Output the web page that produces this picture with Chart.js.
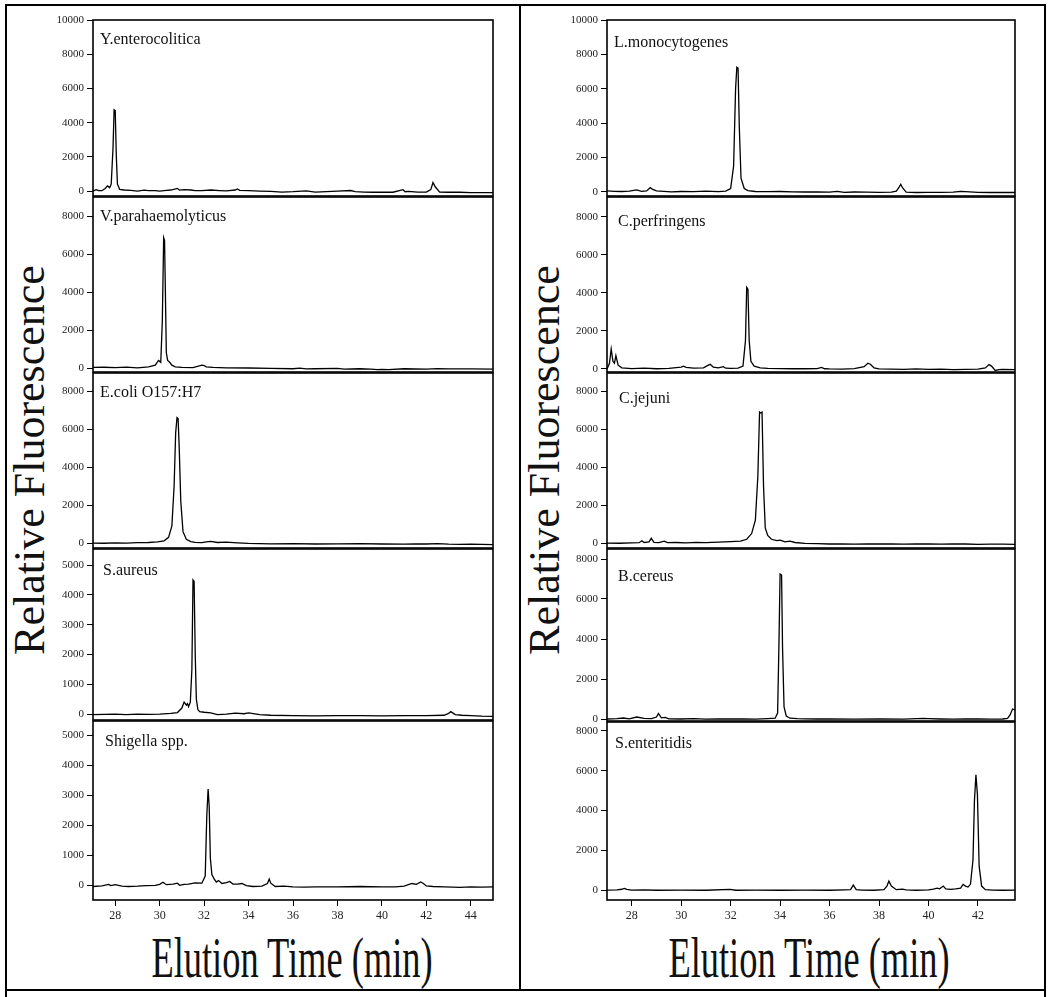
<!DOCTYPE html>
<html><head><meta charset="utf-8">
<script src="https://cdn.jsdelivr.net/npm/chart.js@4.4.1/dist/chart.umd.min.js"></script>
<style>
html,body{margin:0;padding:0;background:#fff;}
body{width:1052px;height:997px;position:relative;overflow:hidden;font-family:"Liberation Serif","Times New Roman",serif;}
canvas{position:absolute;}
.frameline{position:absolute;background:#000;}
.ylab{position:absolute;width:440px;height:50px;line-height:50px;text-align:center;font-size:44px;white-space:nowrap;color:#111;transform:rotate(-90deg);}
.xlab{position:absolute;width:600px;height:64px;line-height:64px;text-align:center;font-size:56px;white-space:nowrap;color:#111;transform:scaleX(0.65);}
</style></head><body>
<div class="frameline" style="left:5px;top:4px;width:2px;height:993px"></div>
<div class="frameline" style="left:1044px;top:4px;width:2px;height:993px"></div>
<div class="frameline" style="left:5px;top:4px;width:1041px;height:2px"></div>
<div class="frameline" style="left:5px;top:989px;width:1041px;height:2px"></div>
<div class="frameline" style="left:519px;top:4px;width:1.5px;height:986px"></div>
<div class="ylab" style="left:-190px;top:435px">Relative Fluorescence</div>
<div class="ylab" style="left:325px;top:435px">Relative Fluorescence</div>
<div class="xlab" style="left:-8px;top:926px">Elution Time (min)</div>
<div class="xlab" style="left:509px;top:926px">Elution Time (min)</div>
<script>
// ---- data (elution time in min, relative fluorescence) ----
const yentTime=[27.0,27.15,27.25,27.4,27.55,27.65,27.75,27.82,27.9,27.95,28.0,28.05,28.1,28.2,28.4,28.7,29.0,29.3,29.5,29.8,30.0,30.3,30.5,30.8,30.9,31.1,31.4,31.6,31.9,32.3,32.7,33.0,33.4,33.5,33.6,34.0,34.5,35.0,35.5,36.0,36.6,37.0,37.5,38.0,38.6,38.8,39.2,39.6,40.0,40.5,40.95,41.05,41.2,41.6,42.0,42.2,42.3,42.4,42.6,43.0,43.5,44.0,45.0];
const yentSignal=[0,80,30,20,150,300,200,400,2500,4750,4700,2000,400,100,60,40,0,50,20,30,-10,40,60,150,50,80,60,30,20,60,30,10,60,120,40,20,0,-20,-60,-40,10,-60,-40,-10,30,-30,-60,-70,-60,-70,80,-40,-20,-60,-60,80,500,250,-60,-70,-70,-90,-90];

const vparaTime=[27.0,27.5,28.0,28.5,29.0,29.5,29.8,29.95,30.05,30.12,30.18,30.22,30.26,30.3,30.36,30.45,30.55,30.7,31.0,31.5,31.9,32.0,32.1,32.4,33.0,34.0,35.0,36.0,36.3,36.6,37.0,38.0,38.3,39.0,39.5,39.8,40.0,40.3,41.0,42.0,42.5,43.0,44.0,45.0];
const vparaSignal=[30,40,20,50,10,60,150,400,300,2500,6850,6700,3800,800,400,300,150,60,30,20,150,130,60,30,10,0,-20,-40,-10,-50,-40,-20,-60,-40,-60,-90,-70,-80,-40,-60,-30,-50,-50,-60];

const ecoliTime=[27.0,27.5,28.0,28.5,29.0,29.5,29.9,30.2,30.4,30.55,30.65,30.72,30.78,30.83,30.88,30.95,31.05,31.2,31.4,31.6,31.9,32.1,32.3,32.6,33.0,33.5,34.0,35.0,36.0,37.0,38.0,39.0,40.0,41.0,41.5,42.0,42.5,43.0,43.5,44.0,45.0];
const ecoliSignal=[0,-10,10,0,20,30,60,120,300,900,3000,5800,6600,6550,5000,2200,600,200,80,40,20,60,90,30,50,10,-20,-40,-30,-50,-40,-30,-50,-60,-40,-50,-30,-60,-70,-60,-80];

const saureusTime=[27.0,27.5,28.0,28.5,29.0,29.5,30.0,30.5,30.8,31.0,31.1,31.2,31.25,31.3,31.38,31.45,31.5,31.55,31.6,31.65,31.72,31.8,32.0,32.3,32.6,33.0,33.4,33.8,34.0,34.5,35.0,36.0,37.0,38.0,39.0,40.0,41.0,42.0,42.8,43.0,43.1,43.3,43.6,44.0,44.5,45.0];
const saureusSignal=[-20,-10,0,-20,0,-10,0,20,50,200,400,300,350,250,400,1500,4500,4450,2000,500,150,80,60,40,-20,0,30,10,40,-20,-40,-50,-60,-50,-50,-60,-50,-50,-40,20,80,-20,-40,-50,-70,-80];

const shigellaTime=[27.0,27.4,27.7,27.8,28.0,28.3,28.6,29.0,29.4,29.8,30.0,30.15,30.3,30.6,30.8,30.9,31.1,31.3,31.6,31.9,32.05,32.12,32.18,32.23,32.28,32.35,32.45,32.55,32.65,32.8,33.0,33.15,33.3,33.5,33.7,33.9,34.2,34.6,34.85,34.93,35.0,35.2,35.6,36.0,36.5,37.0,38.0,39.0,40.0,40.6,41.0,41.35,41.55,41.75,41.85,42.0,42.3,42.8,43.2,43.5,44.0,44.5,45.0];
const shigellaSignal=[-50,-30,20,-20,10,-40,-50,-40,-20,-10,20,90,10,30,60,-10,20,30,70,60,300,2300,3200,2600,900,350,200,100,150,50,80,120,30,30,50,-20,-50,-40,50,200,60,-50,-40,-60,-70,-60,-60,-50,-60,-60,-40,50,20,100,60,-30,-50,-60,-70,-80,-60,-70,-60];

const lmonoTime=[27.0,27.3,27.6,27.9,28.2,28.4,28.6,28.75,28.85,29.0,29.3,29.6,30.0,30.5,31.0,31.5,31.8,32.0,32.12,32.2,32.25,32.3,32.35,32.42,32.55,32.7,33.0,33.5,34.0,34.5,35.0,35.5,36.0,36.3,36.6,37.0,37.5,38.0,38.5,38.7,38.82,38.88,38.95,39.1,39.5,40.0,40.5,41.0,41.3,41.5,42.0,42.5,43.0,43.5];
const lmonoSignal=[60,40,30,50,120,40,60,250,150,60,40,10,30,20,50,20,50,200,1500,6000,7250,7200,3800,800,200,80,30,20,30,10,0,10,-10,40,-20,0,-10,-20,-10,50,300,450,250,-10,-30,-20,-20,-10,40,20,-20,-30,-30,-30];

const cperfTime=[27.0,27.1,27.17,27.24,27.3,27.36,27.45,27.6,28.0,28.5,29.0,29.5,30.0,30.1,30.2,30.5,30.9,31.1,31.17,31.3,31.5,31.7,31.8,32.0,32.3,32.5,32.6,32.65,32.7,32.75,32.82,32.95,33.2,33.5,34.0,34.5,35.0,35.5,35.68,35.8,36.0,36.5,37.0,37.4,37.55,37.65,37.8,38.0,38.5,39.0,39.5,40.0,40.5,41.0,41.5,42.0,42.3,42.45,42.55,42.7,42.85,43.0,43.5];
const cperfSignal=[0,300,1050,400,300,700,200,60,20,40,10,30,100,150,80,40,60,200,250,100,60,120,40,30,40,150,1500,4300,4200,1500,400,150,60,30,20,10,10,20,80,10,0,-10,20,120,300,250,60,0,-10,-20,0,-20,-10,-30,-20,-10,50,230,150,-80,-40,-20,-30];

const cjejTime=[27.0,27.5,28.0,28.3,28.41,28.5,28.7,28.79,28.9,29.1,29.31,29.45,29.8,30.2,30.6,31.0,31.5,32.0,32.4,32.65,32.85,33.0,33.1,33.17,33.22,33.27,33.33,33.4,33.5,33.65,33.87,34.0,34.2,34.4,34.6,35.0,35.5,36.0,36.5,37.0,37.5,38.0,38.5,39.0,39.5,40.0,40.5,41.0,41.5,42.0,42.5,43.0,43.5];
const cjejSignal=[0,-10,10,20,120,30,60,250,40,20,100,20,30,10,40,20,50,80,100,200,500,1200,3500,6900,6850,6900,3000,800,400,200,130,150,60,100,30,-20,-30,-50,-40,-60,-50,-40,-50,-60,-40,-50,-60,-40,-50,-70,-60,-60,-70];

const bcerTime=[27.0,27.4,27.66,27.9,28.2,28.5,28.8,29.0,29.08,29.2,29.35,29.5,30.0,30.5,31.0,31.5,32.0,32.5,33.0,33.5,33.8,33.9,33.95,34.0,34.06,34.1,34.16,34.25,34.4,34.7,35.0,35.5,36.0,37.0,38.0,39.0,39.8,40.0,40.5,41.0,41.5,42.0,42.5,43.0,43.2,43.3,43.4,43.5];
const bcerSignal=[0,20,50,10,100,30,20,100,280,60,80,10,0,20,-10,10,0,10,-10,20,40,300,3500,7250,7200,3500,600,150,40,20,10,0,10,-10,0,-10,30,20,0,-10,10,0,-10,0,30,200,500,450];

const sentTime=[27.0,27.4,27.6,27.7,27.8,28.0,28.5,29.0,30.0,31.0,31.98,32.2,33.0,34.0,35.0,36.0,36.6,36.85,36.96,37.08,37.3,37.8,38.2,38.32,38.4,38.5,38.7,38.95,39.1,39.5,40.0,40.2,40.35,40.45,40.6,40.7,40.9,41.1,41.3,41.4,41.5,41.6,41.7,41.8,41.86,41.92,41.98,42.05,42.15,42.3,42.6,43.0,43.5];
const sentSignal=[0,10,40,80,30,0,10,-10,0,-10,30,-10,0,-10,0,-10,10,20,250,20,0,-10,20,200,450,200,20,50,10,-10,10,50,100,60,200,60,30,60,100,280,200,150,300,1500,4500,5800,4800,1200,200,20,0,-10,0];

// ---- tick labels ----
const yTicks10k=[0,2000,4000,6000,8000,10000];
const yTicks8k=[0,2000,4000,6000,8000];
const yTicks5k=[0,1000,2000,3000,4000,5000];
const xTicksLeft=[28,30,32,34,36,38,40,42,44];
const xTicksRight=[28,30,32,34,36,38,40,42];
const panelNames=['Y.enterocolitica','V.parahaemolyticus','E.coli O157:H7','S.aureus','Shigella spp.','L.monocytogenes','C.perfringens','C.jejuni','B.cereus','S.enteritidis'];

// ---- layout ----
const cols=[
  {left:93,right:493,xMin:27,xMax:45,xTicks:xTicksLeft},
  {left:607,right:1015,xMin:27,xMax:43.5,xTicks:xTicksRight}
];
const panels=[
  {col:0,name:panelNames[0],t:yentTime,s:yentSignal,top:20,bottom:196,yMin:-290,yMax:10000,yTicks:yTicks10k,lx:7,ly:24},
  {col:0,name:panelNames[1],t:vparaTime,s:vparaSignal,top:197,bottom:372,yMin:-210,yMax:9000,yTicks:yTicks8k,lx:7,ly:24},
  {col:0,name:panelNames[2],t:ecoliTime,s:ecoliSignal,top:373,bottom:548,yMin:-260,yMax:8950,yTicks:yTicks8k,lx:7,ly:24},
  {col:0,name:panelNames[3],t:saureusTime,s:saureusSignal,top:549,bottom:720,yMin:-200,yMax:5537,yTicks:yTicks5k,lx:10,ly:26},
  {col:0,name:panelNames[4],t:shigellaTime,s:shigellaSignal,top:721,bottom:900,yMin:-500,yMax:5467,yTicks:yTicks5k,lx:12,ly:25,bottomPanel:true},
  {col:1,name:panelNames[5],t:lmonoTime,s:lmonoSignal,top:20,bottom:196,yMin:-233,yMax:10000,yTicks:yTicks10k,lx:7,ly:27},
  {col:1,name:panelNames[6],t:cperfTime,s:cperfSignal,top:197,bottom:372,yMin:-160,yMax:9050,yTicks:yTicks8k,lx:11,ly:29},
  {col:1,name:panelNames[7],t:cjejTime,s:cjejSignal,top:373,bottom:548,yMin:-260,yMax:8950,yTicks:yTicks8k,lx:12,ly:30},
  {col:1,name:panelNames[8],t:bcerTime,s:bcerSignal,top:549,bottom:721,yMin:-100,yMax:8500,yTicks:yTicks8k,lx:11,ly:32},
  {col:1,name:panelNames[9],t:sentTime,s:sentSignal,top:722,bottom:900,yMin:-500,yMax:8450,yTicks:yTicks8k,lx:8,ly:26,bottomPanel:true}
];

const framePlugin={id:'frame',afterDatasetsDraw(chart){
  const {ctx,chartArea:a}=chart;ctx.save();ctx.strokeStyle='#000';ctx.lineWidth=1.6;
  ctx.strokeRect(a.left,a.top,a.right-a.left,a.bottom-a.top);ctx.restore();}};
const labelPlugin={id:'panelLabel',afterDraw(chart,args,opts){
  const {ctx,chartArea:a}=chart;ctx.save();ctx.fillStyle='#111';ctx.font='16px "Liberation Serif"';
  ctx.textBaseline='alphabetic';ctx.fillText(opts.text,a.left+opts.dx,a.top+opts.dy);ctx.restore();}};

const AXW=60,PT=9,PR=3,PB=9,XAH=30;
panels.forEach(p=>{
  const c=cols[p.col];
  const isBottom=!!p.bottomPanel;
  const w=AXW+(c.right-c.left)+PR;
  const h=PT+(p.bottom-p.top)+PB+(isBottom?XAH:0);
  const cv=document.createElement('canvas');
  cv.width=w;cv.height=h;
  cv.style.left=(c.left-AXW)+'px';cv.style.top=(p.top-PT)+'px';
  cv.style.width=w+'px';cv.style.height=h+'px';
  document.body.appendChild(cv);
  new Chart(cv,{
    type:'line',
    data:{datasets:[{data:p.t.map((x,i)=>({x:x,y:p.s[i]})),borderColor:'#000',borderWidth:1.3,pointRadius:0,tension:0,fill:false}]},
    options:{
      responsive:false,animation:false,devicePixelRatio:1,
      layout:{padding:{top:PT,right:PR,bottom:PB,left:0}},
      plugins:{legend:{display:false},tooltip:{enabled:false},panelLabel:{text:p.name,dx:p.lx,dy:p.ly}},
      scales:{
        x:{type:'linear',min:c.xMin,max:c.xMax,display:isBottom,
          afterBuildTicks:s=>{s.ticks=c.xTicks.map(v=>({value:v}));},
          afterFit:s=>{ if(isBottom){s.height=XAH;} else {s.height=0;} s.paddingLeft=0;s.paddingRight=0;s.paddingTop=0;s.paddingBottom=0;},
          grid:{drawOnChartArea:false,drawTicks:true,tickLength:6,color:'#000',tickColor:'#000'},
          border:{display:false},
          ticks:{font:{family:'Liberation Serif',size:12},color:'#222',padding:3,maxRotation:0,autoSkip:false,callback:v=>String(v)}},
        y:{type:'linear',min:p.yMin,max:p.yMax,
          afterBuildTicks:s=>{s.ticks=p.yTicks.map(v=>({value:v}));},
          afterFit:s=>{s.width=AXW;s.paddingTop=0;s.paddingBottom=0;s.paddingLeft=0;s.paddingRight=0;},
          grid:{drawOnChartArea:false,drawTicks:true,tickLength:6,color:'#000',tickColor:'#000'},
          border:{display:false},
          ticks:{font:{family:'Liberation Serif',size:11},color:'#222',padding:3,autoSkip:false,callback:v=>String(v)}}
      }
    },
    plugins:[framePlugin,labelPlugin]
  });
});
</script>
</body></html>
